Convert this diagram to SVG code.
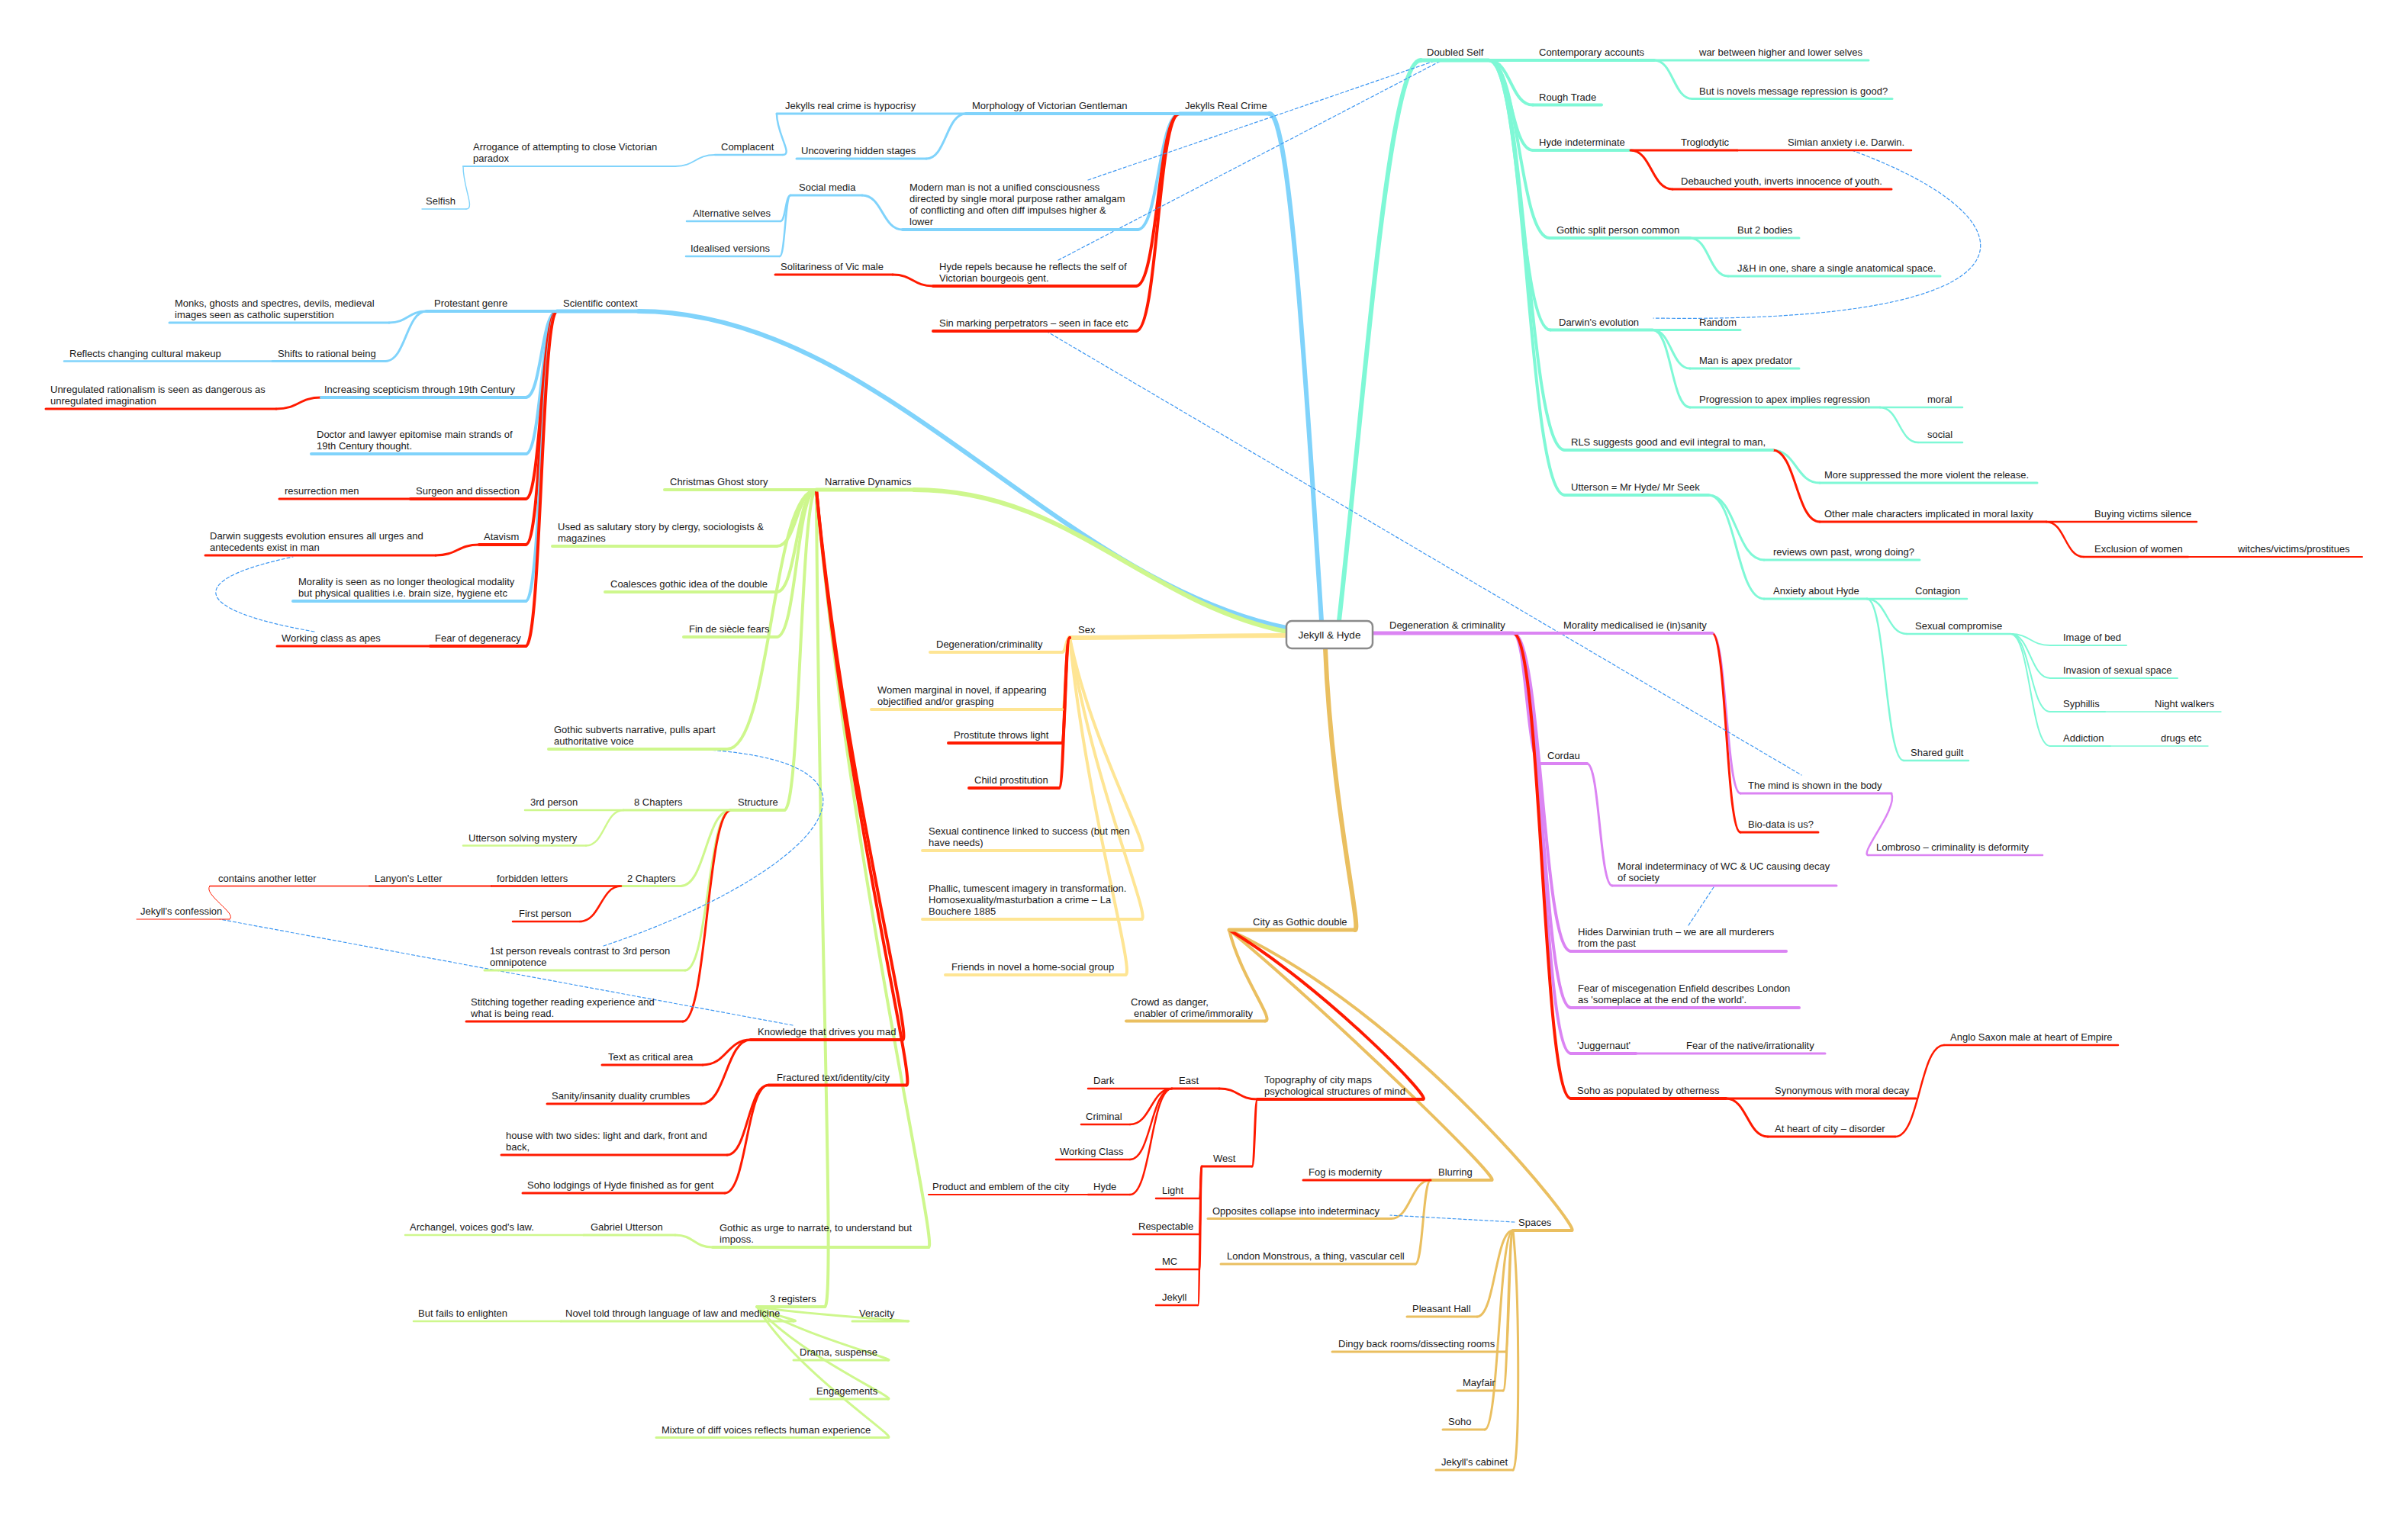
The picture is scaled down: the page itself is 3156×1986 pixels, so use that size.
<svg xmlns="http://www.w3.org/2000/svg" width="3156" height="1986" viewBox="0 0 3156 1986">
<defs>
<style>
path{fill:none;stroke-linecap:round;stroke-linejoin:round}
.b{stroke:#80d3fb}.t{stroke:#7ff8d6}.g{stroke:#cef78d}.y{stroke:#fee594}.o{stroke:#eabf60}.p{stroke:#db84f3}.r{stroke:#ff1a00}
.w0{stroke-width:6}.w1{stroke-width:5}.w2{stroke-width:4}.w3{stroke-width:3}.w4{stroke-width:2.5}.w5{stroke-width:2}.w6{stroke-width:1.4}.w7{stroke-width:1}
.rel{stroke:#3d97f2;stroke-width:1.2;stroke-dasharray:4 3;marker-end:url(#arr)}
text{font-family:"Liberation Sans",Arial,sans-serif;font-size:13px;fill:#1a1a1a}
.root{font-size:13.5px;text-anchor:middle}
</style>
<marker id="arr" markerUnits="userSpaceOnUse" markerWidth="12" markerHeight="10" refX="11" refY="5" orient="auto"><path d="M0 0L12 5L0 10z" fill="#2f8ff0" stroke="none"/></marker>
</defs>
<rect width="3156" height="1986" fill="#ffffff"/>
<g id="connectors">
<path class="t w0" d="M1755 814C1790 500 1820 79 1862 79"/>
<path class="b w0" d="M1732 814C1712 500 1690 149 1664 149"/>
<path class="b w0" d="M1686 823C1380 760 1150 408 837 408"/>
<path class="g w0" d="M1686 828C1500 790 1400 642 1198 642"/>
<path class="y w0" d="M1686 833C1600 833 1500 836 1402 836"/>
<path class="o w0" d="M1737 850C1745 1050 1785 1219 1776 1219"/>
<path class="b w2" d="M1546 149C1518.5 149 1518.5 301 1491 301"/>
<path class="r w2" d="M1546 149C1517.5 149 1517.5 375 1489 375"/>
<path class="r w2" d="M1546 149C1517.5 149 1517.5 434 1489 434"/>
<path class="b w3" d="M1266 149C1240 149 1240 208 1214 208"/>
<path class="b w4" d="M1018 149C1018 176 1040 203 1026 203"/>
<path class="b w5" d="M937 203C911 203 911 218 885 218"/>
<path class="b w6" d="M607 218C607 246 623 274 611 274"/>
<path class="b w3" d="M1183 301C1156.5 301 1156.5 256 1130 256"/>
<path class="b w4" d="M1036 256C1029.5 256 1029.5 290 1023 290"/>
<path class="b w4" d="M1036 256C1029 256 1029 336 1022 336"/>
<path class="r w3" d="M1223 375C1196.5 375 1196.5 360 1170 360"/>
<path class="b w2" d="M730 408C709.5 408 709.5 521 689 521"/>
<path class="b w2" d="M730 408C709.5 408 709.5 595 689 595"/>
<path class="r w2" d="M730 408C709.5 408 709.5 654 689 654"/>
<path class="r w2" d="M730 408C709.5 408 709.5 714 689 714"/>
<path class="b w2" d="M730 408C709.5 408 709.5 788 689 788"/>
<path class="r w2" d="M730 408C709.5 408 709.5 847 689 847"/>
<path class="b w3" d="M559 408C534.5 408 534.5 423 510 423"/>
<path class="b w3" d="M559 408C532 408 532 473.5 505 473.5"/>
<path class="r w3" d="M421 521C391.5 521 391.5 536 362 536"/>
<path class="r w3" d="M628 714C599.5 714 599.5 728 571 728"/>
<path class="g w2" d="M1070 642C1044 642 1044 716 1018 716"/>
<path class="g w2" d="M1070 642C1044 642 1044 776 1018 776"/>
<path class="g w2" d="M1070 642C1044 642 1044 835 1018 835"/>
<path class="g w2" d="M1070 642C1011 642 1011 982 953 982"/>
<path class="g w2" d="M1070 642C1049 642 1049 1062 1028 1062"/>
<path class="g w2" d="M1070 642C1114 1138 1231 1635 1217 1635"/>
<path class="g w2" d="M1070 642C1073 1178 1095 1713 1081 1713"/>
<path class="r w2" d="M1070 642C1104 1003 1197 1363 1183 1363"/>
<path class="r w2" d="M1070 642C1105 1032 1202 1422.5 1188 1422.5"/>
<path class="g w3" d="M958 1062C925 1062 925 1161.5 892 1161.5"/>
<path class="g w3" d="M958 1062C928 1062 928 1272 898 1272"/>
<path class="r w3" d="M958 1062C926.5 1062 926.5 1339 895 1339"/>
<path class="g w4" d="M817 1062C792.5 1062 792.5 1108.5 768 1108.5"/>
<path class="r w4" d="M814 1161.5C787 1161.5 787 1208 760 1208"/>
<path class="r w7" d="M275 1161.5C265 1172 312 1198 301 1205"/>
<path class="r w3" d="M984 1363C952.5 1363 952.5 1396 921 1396"/>
<path class="r w3" d="M984 1363C951.5 1363 951.5 1447 919 1447"/>
<path class="r w3" d="M1007 1422.5C980 1422.5 980 1514 953 1514"/>
<path class="r w3" d="M1007 1422.5C978.5 1422.5 978.5 1564 950 1564"/>
<path class="g w3" d="M934 1635C909.5 1635 909.5 1619 885 1619"/>
<path class="g w3" d="M992 1713C1006 1723 1054 1732 1040 1732"/>
<path class="g w3" d="M992 1713C1051 1723 1204 1732 1190 1732"/>
<path class="g w3" d="M992 1713C1044 1748 1178 1783 1164 1783"/>
<path class="g w3" d="M992 1713C1044 1774 1178 1834 1164 1834"/>
<path class="g w3" d="M992 1713C1044 1799 1178 1884.5 1164 1884.5"/>
<path class="y w2" d="M1402 836C1397 836 1397 855 1392 855"/>
<path class="y w2" d="M1402 836C1397 836 1397 930 1392 930"/>
<path class="y w2" d="M1402 836C1430 975 1510 1115 1496 1115"/>
<path class="y w2" d="M1402 836C1430 1020 1510 1205 1496 1205"/>
<path class="y w2" d="M1402 836C1424 1057 1489 1278 1475 1278"/>
<path class="r w2" d="M1402 836C1396.5 836 1396.5 974 1391 974"/>
<path class="r w2" d="M1402 836C1395 836 1395 1033 1388 1033"/>
<path class="o w2" d="M1611 1219C1625 1279 1672 1338.5 1658 1338.5"/>
<path class="o w2" d="M1611 1219C1749 1334 1969 1547 1955 1547"/>
<path class="o w2" d="M1611 1219C1850 1330 2074 1613 2060 1613"/>
<path class="r w2" d="M1611 1219C1730 1290 1879 1441 1865 1441"/>
<path class="r w3" d="M1648 1441C1623 1441 1623 1427 1598 1427"/>
<path class="r w3" d="M1648 1441C1644.5 1441 1644.5 1529 1641 1529"/>
<path class="r w4" d="M1536 1427C1508.5 1427 1508.5 1474 1481 1474"/>
<path class="r w4" d="M1536 1427C1508.5 1427 1508.5 1520 1481 1520"/>
<path class="r w4" d="M1536 1427C1508.5 1427 1508.5 1566 1481 1566"/>
<path class="r w4" d="M1575 1529C1573.5 1529 1573.5 1571 1572 1571"/>
<path class="r w4" d="M1575 1529C1573.5 1529 1573.5 1618 1572 1618"/>
<path class="r w4" d="M1575 1529C1573.5 1529 1573.5 1664 1572 1664"/>
<path class="r w4" d="M1575 1529C1572.5 1529 1572.5 1711 1570 1711"/>
<path class="o w3" d="M1875 1547C1849 1547 1849 1597.5 1823 1597.5"/>
<path class="o w3" d="M1875 1547C1865 1547 1865 1657 1855 1657"/>
<path class="o w3" d="M1983 1613C1959.5 1613 1959.5 1726 1936 1726"/>
<path class="o w3" d="M1983 1613C1978 1613 1978 1772 1973 1772"/>
<path class="o w3" d="M1983 1613C1976.5 1613 1976.5 1823 1970 1823"/>
<path class="o w3" d="M1983 1613C1964.5 1613 1964.5 1874 1946 1874"/>
<path class="o w3" d="M1983 1613C1992 1700 1992 1927 1983 1927"/>
<path class="p w2" d="M1983 830C2001 830 2001 1001 2019 1001"/>
<path class="p w2" d="M1983 830C2021 830 2021 1247 2059 1247"/>
<path class="p w2" d="M1983 830C2021 830 2021 1321 2059 1321"/>
<path class="p w2" d="M1983 830C2021 830 2021 1381 2059 1381"/>
<path class="r w2" d="M1983 830C2021 830 2021 1440 2059 1440"/>
<path class="p w3" d="M2244 830C2262.5 830 2262.5 1040 2281 1040"/>
<path class="r w3" d="M2244 830C2262.5 830 2262.5 1091 2281 1091"/>
<path class="p w4" d="M2479 1040C2488 1060 2435 1121 2449 1121"/>
<path class="p w3" d="M2080 1001C2096.5 1001 2096.5 1161 2113 1161"/>
<path class="r w3" d="M2262 1440C2290 1440 2290 1490 2317 1490"/>
<path class="r w4" d="M2484 1490C2516 1490 2516 1370 2548 1370"/>
<path class="t w2" d="M1951 79C1980 79 1980 137.6 2009 137.6"/>
<path class="t w2" d="M1951 79C1980 79 1980 197 2009 197"/>
<path class="t w2" d="M1951 79C1991 79 1991 312 2031 312"/>
<path class="t w2" d="M1951 79C1991.5 79 1991.5 432.5 2032 432.5"/>
<path class="t w2" d="M1951 79C2001 79 2001 590 2051 590"/>
<path class="t w2" d="M1951 79C2001 79 2001 649 2051 649"/>
<path class="t w3" d="M2168 79C2193 79 2193 129.5 2218 129.5"/>
<path class="r w3" d="M2137 197C2164.5 197 2164.5 248 2192 248"/>
<path class="t w3" d="M2215 312C2240 312 2240 362 2265 362"/>
<path class="t w3" d="M2166 432.5C2190.5 432.5 2190.5 483 2215 483"/>
<path class="t w3" d="M2166 432.5C2190.5 432.5 2190.5 534 2215 534"/>
<path class="t w4" d="M2464 534C2489 534 2489 580 2514 580"/>
<path class="t w3" d="M2323 590C2354 590 2354 633 2385 633"/>
<path class="r w3" d="M2323 590C2354 590 2354 684 2385 684"/>
<path class="r w4" d="M2682 684C2706.5 684 2706.5 730 2731 730"/>
<path class="t w3" d="M2239 649C2275.5 649 2275.5 734 2312 734"/>
<path class="t w3" d="M2239 649C2275.5 649 2275.5 785 2312 785"/>
<path class="t w4" d="M2447 785C2473 785 2473 831 2499 831"/>
<path class="t w4" d="M2447 785C2471 785 2471 997 2495 997"/>
<path class="t w5" d="M2635 831C2661 831 2661 846 2687 846"/>
<path class="t w5" d="M2635 831C2661 831 2661 889 2687 889"/>
<path class="t w5" d="M2635 831C2661 831 2661 933 2687 933"/>
<path class="t w5" d="M2635 831C2661 831 2661 978 2687 978"/>
<path class="rel" d="M1426 236L1880 80"/>
<path class="rel" d="M1387 341L1888 80"/>
<path class="rel" d="M1371 434L2361 1016"/>
<path class="rel" d="M2427 197C2680 290 2690 425 2167 417"/>
<path class="rel" d="M412 828C250 800 240 760 384 730"/>
<path class="rel" d="M791 1240C1060 1150 1230 990 887 981"/>
<path class="rel" d="M1039 1344L288 1205"/>
<path class="rel" d="M2213 1213L2246 1163"/>
<path class="rel" d="M1985 1602L1822 1593"/>
</g>
<g id="n-jrc"><path class="b w1" d="M1546 149H1664"/><text x="1553" y="143">Jekylls Real Crime</text></g>
<g id="n-morph"><path class="b w2" d="M1266 149H1546"/><text x="1274" y="143">Morphology of Victorian Gentleman</text></g>
<g id="n-hypo"><path class="b w3" d="M1018 149H1266"/><text x="1029" y="143">Jekylls real crime is hypocrisy</text></g>
<g id="n-compl"><path class="b w4" d="M937 203H1026"/><text x="945" y="197">Complacent</text></g>
<g id="n-arrog"><path class="b w5" d="M607 218H885"/><text x="620" y="197">Arrogance of attempting to close Victorian<tspan x="620" dy="15">paradox</tspan></text></g>
<g id="n-selfish"><path class="b w6" d="M553 274H611"/><text x="558" y="268">Selfish</text></g>
<g id="n-uncover"><path class="b w3" d="M1044 208H1214"/><text x="1050" y="202">Uncovering hidden stages</text></g>
<g id="n-modern"><path class="b w2" d="M1183 301H1491"/><text x="1192" y="250">Modern man is not a unified consciousness<tspan x="1192" dy="15">directed by single moral purpose rather amalgam</tspan><tspan x="1192" dy="15">of conflicting and often diff impulses higher &amp;</tspan><tspan x="1192" dy="15">lower</tspan></text></g>
<g id="n-social"><path class="b w3" d="M1036 256H1130"/><text x="1047" y="250">Social media</text></g>
<g id="n-alt"><path class="b w4" d="M900 290H1023"/><text x="908" y="284">Alternative selves</text></g>
<g id="n-ideal"><path class="b w4" d="M899 336H1022"/><text x="905" y="330">Idealised versions</text></g>
<g id="n-hrepel"><path class="r w2" d="M1223 375H1489"/><text x="1231" y="354">Hyde repels because he reflects the self of<tspan x="1231" dy="15">Victorian bourgeois gent.</tspan></text></g>
<g id="n-solit"><path class="r w3" d="M1016 360H1170"/><text x="1023" y="354">Solitariness of Vic male</text></g>
<g id="n-sin"><path class="r w2" d="M1223 434H1489"/><text x="1231" y="428">Sin marking perpetrators – seen in face etc</text></g>
<g id="n-sci"><path class="b w1" d="M730 408H837"/><text x="738" y="402">Scientific context</text></g>
<g id="n-prot"><path class="b w2" d="M559 408H730"/><text x="569" y="402">Protestant genre</text></g>
<g id="n-monks"><path class="b w3" d="M222 423H510"/><text x="229" y="402">Monks, ghosts and spectres, devils, medieval<tspan x="229" dy="15">images seen as catholic superstition</tspan></text></g>
<g id="n-shifts"><path class="b w3" d="M357 473.5H505"/><text x="364" y="467.5">Shifts to rational being</text></g>
<g id="n-reflects"><path class="b w4" d="M84 473.5H357"/><text x="91" y="467.5">Reflects changing cultural makeup</text></g>
<g id="n-incr"><path class="b w2" d="M421 521H689"/><text x="425" y="515">Increasing scepticism through 19th Century</text></g>
<g id="n-unreg"><path class="r w3" d="M60 536H362"/><text x="66" y="515">Unregulated rationalism is seen as dangerous as<tspan x="66" dy="15">unregulated imagination</tspan></text></g>
<g id="n-doctor"><path class="b w2" d="M408 595H689"/><text x="415" y="574">Doctor and lawyer epitomise main strands of<tspan x="415" dy="15">19th Century thought.</tspan></text></g>
<g id="n-surgeon"><path class="r w2" d="M538 654H689"/><text x="545" y="648">Surgeon and dissection</text></g>
<g id="n-resur"><path class="r w3" d="M366 654H538"/><text x="373" y="648">resurrection men</text></g>
<g id="n-atav"><path class="r w2" d="M628 714H689"/><text x="634" y="708">Atavism</text></g>
<g id="n-darsug"><path class="r w3" d="M269 728H571"/><text x="275" y="707">Darwin suggests evolution ensures all urges and<tspan x="275" dy="15">antecedents exist in man</tspan></text></g>
<g id="n-moral"><path class="b w2" d="M384 788H689"/><text x="391" y="767">Morality is seen as no longer theological modality<tspan x="391" dy="15">but physical qualities i.e. brain size, hygiene etc</tspan></text></g>
<g id="n-fear"><path class="r w2" d="M564 847H689"/><text x="570" y="841">Fear of degeneracy</text></g>
<g id="n-wc"><path class="r w3" d="M363 847H564"/><text x="369" y="841">Working class as apes</text></g>
<g id="n-narr"><path class="g w1" d="M1070 642H1198"/><text x="1081" y="636">Narrative Dynamics</text></g>
<g id="n-xmas"><path class="g w2" d="M871 642H1070"/><text x="878" y="636">Christmas Ghost story</text></g>
<g id="n-used"><path class="g w2" d="M724 716H1018"/><text x="731" y="695">Used as salutary story by clergy, sociologists &amp;<tspan x="731" dy="15">magazines</tspan></text></g>
<g id="n-coal"><path class="g w2" d="M793 776H1018"/><text x="800" y="770">Coalesces gothic idea of the double</text></g>
<g id="n-fin"><path class="g w2" d="M896 835H1018"/><text x="903" y="829">Fin de siècle fears</text></g>
<g id="n-gsub"><path class="g w2" d="M719 982H953"/><text x="726" y="961">Gothic subverts narrative, pulls apart<tspan x="726" dy="15">authoritative voice</tspan></text></g>
<g id="n-struct"><path class="g w2" d="M958 1062H1028"/><text x="967" y="1056">Structure</text></g>
<g id="n-8ch"><path class="g w3" d="M817 1062H958"/><text x="831" y="1056">8 Chapters</text></g>
<g id="n-3rd"><path class="g w4" d="M688 1062H817"/><text x="695" y="1056">3rd person</text></g>
<g id="n-utsolve"><path class="g w4" d="M607 1108.5H768"/><text x="614" y="1102.5">Utterson solving mystery</text></g>
<g id="n-2ch"><path class="g w3" d="M814 1161.5H892"/><text x="822" y="1155.5">2 Chapters</text></g>
<g id="n-forb"><path class="r w4" d="M644 1161.5H814"/><text x="651" y="1155.5">forbidden letters</text></g>
<g id="n-lany"><path class="r w5" d="M484 1161.5H644"/><text x="491" y="1155.5">Lanyon's Letter</text></g>
<g id="n-contains"><path class="r w6" d="M275 1161.5H484"/><text x="286" y="1155.5">contains another letter</text></g>
<g id="n-jconf"><path class="r w7" d="M179 1205H301"/><text x="184" y="1199">Jekyll's confession</text></g>
<g id="n-first"><path class="r w4" d="M672 1208H760"/><text x="680" y="1202">First person</text></g>
<g id="n-1st"><path class="g w3" d="M635 1272H898"/><text x="642" y="1251">1st person reveals contrast to 3rd person<tspan x="642" dy="15">omnipotence</tspan></text></g>
<g id="n-stitch"><path class="r w3" d="M611 1339H895"/><text x="617" y="1318">Stitching together reading experience and<tspan x="617" dy="15">what is being read.</tspan></text></g>
<g id="n-know"><path class="r w2" d="M984 1363H1183"/><text x="993" y="1357">Knowledge that drives you mad</text></g>
<g id="n-textcrit"><path class="r w3" d="M789 1396H921"/><text x="797" y="1390">Text as critical area</text></g>
<g id="n-sanity"><path class="r w3" d="M717 1447H919"/><text x="723" y="1441">Sanity/insanity duality crumbles</text></g>
<g id="n-fract"><path class="r w2" d="M1007 1422.5H1188"/><text x="1018" y="1416.5">Fractured text/identity/city</text></g>
<g id="n-house"><path class="r w3" d="M657 1514H953"/><text x="663" y="1493">house with two sides: light and dark, front and<tspan x="663" dy="15">back,</tspan></text></g>
<g id="n-soholodg"><path class="r w3" d="M685 1564H950"/><text x="691" y="1558">Soho lodgings of Hyde finished as for gent</text></g>
<g id="n-gurge"><path class="g w2" d="M934 1635H1217"/><text x="943" y="1614">Gothic as urge to narrate, to understand but<tspan x="943" dy="15">imposs.</tspan></text></g>
<g id="n-gabriel"><path class="g w3" d="M765 1619H885"/><text x="774" y="1613">Gabriel Utterson</text></g>
<g id="n-archangel"><path class="g w4" d="M531 1619H765"/><text x="537" y="1613">Archangel, voices god's law.</text></g>
<g id="n-3reg"><path class="g w2" d="M992 1713H1081"/><text x="1009" y="1707">3 registers</text></g>
<g id="n-novel"><path class="g w3" d="M735 1732H1040"/><text x="741" y="1726">Novel told through language of law and medicine</text></g>
<g id="n-butfails"><path class="g w4" d="M542 1732H735"/><text x="548" y="1726">But fails to enlighten</text></g>
<g id="n-veracity"><path class="g w3" d="M1117 1732H1190"/><text x="1126" y="1726">Veracity</text></g>
<g id="n-drama"><path class="g w3" d="M1040 1783H1164"/><text x="1048" y="1777">Drama, suspense</text></g>
<g id="n-engage"><path class="g w3" d="M1062 1834H1164"/><text x="1070" y="1828">Engagements</text></g>
<g id="n-mixture"><path class="g w3" d="M860 1884.5H1164"/><text x="867" y="1878.5">Mixture of diff voices reflects human experience</text></g>
<g id="n-sex"><text x="1413" y="830">Sex</text></g>
<g id="n-degcrim"><path class="y w2" d="M1219 855H1392"/><text x="1227" y="849">Degeneration/criminality</text></g>
<g id="n-women"><path class="y w2" d="M1142 930H1392"/><text x="1150" y="909">Women marginal in novel, if appearing<tspan x="1150" dy="15">objectified and/or grasping</tspan></text></g>
<g id="n-prost"><path class="r w2" d="M1243 974H1391"/><text x="1250" y="968">Prostitute throws light</text></g>
<g id="n-child"><path class="r w2" d="M1270 1033H1388"/><text x="1277" y="1027">Child prostitution</text></g>
<g id="n-contin"><path class="y w2" d="M1209 1115H1496"/><text x="1217" y="1094">Sexual continence linked to success (but men<tspan x="1217" dy="15">have needs)</tspan></text></g>
<g id="n-phallic"><path class="y w2" d="M1209 1205H1496"/><text x="1217" y="1169">Phallic, tumescent imagery in transformation.<tspan x="1217" dy="15">Homosexuality/masturbation a crime – La</tspan><tspan x="1217" dy="15">Bouchere 1885</tspan></text></g>
<g id="n-friends"><path class="y w2" d="M1239 1278H1475"/><text x="1247" y="1272">Friends in novel a home-social group</text></g>
<g id="n-city"><path class="o w1" d="M1611 1219H1776"/><text x="1642" y="1213">City as Gothic double</text></g>
<g id="n-crowd"><path class="o w2" d="M1476 1338.5H1658"/><text x="1482" y="1317.5">Crowd as danger,<tspan x="1486" dy="15">enabler of crime/immorality</tspan></text></g>
<g id="n-topo"><path class="r w2" d="M1648 1441H1865"/><text x="1657" y="1420">Topography of city maps<tspan x="1657" dy="15">psychological structures of mind</tspan></text></g>
<g id="n-east"><path class="r w3" d="M1536 1427H1598"/><text x="1545" y="1421">East</text></g>
<g id="n-dark"><path class="r w4" d="M1426 1427H1536"/><text x="1433" y="1421">Dark</text></g>
<g id="n-criminal"><path class="r w4" d="M1417 1474H1481"/><text x="1423" y="1468">Criminal</text></g>
<g id="n-wclass"><path class="r w4" d="M1384 1520H1481"/><text x="1389" y="1514">Working Class</text></g>
<g id="n-hyde"><path class="r w4" d="M1426 1566H1481"/><text x="1433" y="1560">Hyde</text></g>
<g id="n-product"><path class="r w5" d="M1217 1566H1426"/><text x="1222" y="1560">Product and emblem of the city</text></g>
<g id="n-west"><path class="r w3" d="M1575 1529H1641"/><text x="1590" y="1523">West</text></g>
<g id="n-light"><path class="r w4" d="M1515 1571H1572"/><text x="1523" y="1565">Light</text></g>
<g id="n-resp"><path class="r w4" d="M1485 1618H1572"/><text x="1492" y="1612">Respectable</text></g>
<g id="n-mc"><path class="r w4" d="M1515 1664H1572"/><text x="1523" y="1658">MC</text></g>
<g id="n-jekyll"><path class="r w4" d="M1515 1711H1570"/><text x="1523" y="1705">Jekyll</text></g>
<g id="n-blur"><path class="o w2" d="M1875 1547H1955"/><text x="1885" y="1541">Blurring</text></g>
<g id="n-fog"><path class="r w3" d="M1708 1547H1875"/><text x="1715" y="1541">Fog is modernity</text></g>
<g id="n-opp"><path class="o w3" d="M1583 1597.5H1823"/><text x="1589" y="1591.5">Opposites collapse into indeterminacy</text></g>
<g id="n-london"><path class="o w3" d="M1600 1657H1855"/><text x="1608" y="1651">London Monstrous, a thing, vascular cell</text></g>
<g id="n-spaces"><path class="o w2" d="M1983 1613H2060"/><text x="1990" y="1607">Spaces</text></g>
<g id="n-pleasant"><path class="o w3" d="M1844 1726H1936"/><text x="1851" y="1720">Pleasant Hall</text></g>
<g id="n-dingy"><path class="o w3" d="M1746 1772H1973"/><text x="1754" y="1766">Dingy back rooms/dissecting rooms</text></g>
<g id="n-mayfair"><path class="o w3" d="M1910 1823H1970"/><text x="1917" y="1817">Mayfair</text></g>
<g id="n-soho"><path class="o w3" d="M1891 1874H1946"/><text x="1898" y="1868">Soho</text></g>
<g id="n-cabinet"><path class="o w3" d="M1882 1927H1983"/><text x="1889" y="1921">Jekyll's cabinet</text></g>
<g id="n-degen"><path class="p w1" d="M1799 830H1983"/><text x="1821" y="824">Degeneration &amp; criminality</text></g>
<g id="n-medic"><path class="p w2" d="M1983 830H2244"/><text x="2049" y="824">Morality medicalised ie (in)sanity</text></g>
<g id="n-mind"><path class="p w3" d="M2281 1040H2479"/><text x="2291" y="1034">The mind is shown in the body</text></g>
<g id="n-lomb"><path class="p w4" d="M2449 1121H2677"/><text x="2459" y="1115">Lombroso – criminality is deformity</text></g>
<g id="n-bio"><path class="r w3" d="M2281 1091H2383"/><text x="2291" y="1085">Bio-data is us?</text></g>
<g id="n-cordau"><path class="p w2" d="M2019 1001H2080"/><text x="2028" y="995">Cordau</text></g>
<g id="n-moralind"><path class="p w3" d="M2113 1161H2407"/><text x="2120" y="1140">Moral indeterminacy of WC &amp; UC causing decay<tspan x="2120" dy="15">of society</tspan></text></g>
<g id="n-hides"><path class="p w2" d="M2059 1247H2341"/><text x="2068" y="1226">Hides Darwinian truth – we are all murderers<tspan x="2068" dy="15">from the past</tspan></text></g>
<g id="n-misc"><path class="p w2" d="M2059 1321H2358"/><text x="2068" y="1300">Fear of miscegenation Enfield describes London<tspan x="2068" dy="15">as 'someplace at the end of the world'.</tspan></text></g>
<g id="n-jugg"><path class="p w2" d="M2059 1381H2144"/><text x="2067" y="1375">'Juggernaut'</text></g>
<g id="n-native"><path class="p w3" d="M2144 1381H2392"/><text x="2210" y="1375">Fear of the native/irrationality</text></g>
<g id="n-sohoother"><path class="r w2" d="M2059 1440H2262"/><text x="2067" y="1434">Soho as populated by otherness</text></g>
<g id="n-synon"><path class="r w3" d="M2262 1440H2511"/><text x="2326" y="1434">Synonymous with moral decay</text></g>
<g id="n-heart"><path class="r w3" d="M2317 1490H2484"/><text x="2326" y="1484">At heart of city – disorder</text></g>
<g id="n-anglo"><path class="r w4" d="M2548 1370H2776"/><text x="2556" y="1364">Anglo Saxon male at heart of Empire</text></g>
<g id="n-doubled"><path class="t w1" d="M1862 79H1951"/><text x="1870" y="73">Doubled Self</text></g>
<g id="n-contemp"><path class="t w2" d="M1951 79H2168"/><text x="2017" y="73">Contemporary accounts</text></g>
<g id="n-war"><path class="t w3" d="M2168 79H2449"/><text x="2227" y="73">war between higher and lower selves</text></g>
<g id="n-butis"><path class="t w3" d="M2218 129.5H2480"/><text x="2227" y="123.5">But is novels message repression is good?</text></g>
<g id="n-rough"><path class="t w2" d="M2009 137.6H2099"/><text x="2017" y="131.6">Rough Trade</text></g>
<g id="n-hydeind"><path class="t w2" d="M2009 197H2137"/><text x="2017" y="191">Hyde indeterminate</text></g>
<g id="n-trog"><path class="r w3" d="M2137 197H2277"/><text x="2203" y="191">Troglodytic</text></g>
<g id="n-simian"><path class="r w4" d="M2277 197H2505"/><text x="2343" y="191">Simian anxiety i.e. Darwin.</text></g>
<g id="n-debauch"><path class="r w3" d="M2192 248H2479"/><text x="2203" y="242">Debauched youth, inverts innocence of youth.</text></g>
<g id="n-gothsplit"><path class="t w2" d="M2031 312H2215"/><text x="2040" y="306">Gothic split person common</text></g>
<g id="n-2bodies"><path class="t w3" d="M2215 312H2358"/><text x="2277" y="306">But 2 bodies</text></g>
<g id="n-jh"><path class="t w3" d="M2265 362H2543"/><text x="2277" y="356">J&amp;H in one, share a single anatomical space.</text></g>
<g id="n-darwin"><path class="t w2" d="M2032 432.5H2166"/><text x="2043" y="426.5">Darwin's evolution</text></g>
<g id="n-random"><path class="t w3" d="M2166 432.5H2281"/><text x="2227" y="426.5">Random</text></g>
<g id="n-apex"><path class="t w3" d="M2215 483H2358"/><text x="2227" y="477">Man is apex predator</text></g>
<g id="n-progr"><path class="t w3" d="M2215 534H2464"/><text x="2227" y="528">Progression to apex implies regression</text></g>
<g id="n-moral2"><path class="t w4" d="M2464 534H2572"/><text x="2526" y="528">moral</text></g>
<g id="n-social2"><path class="t w4" d="M2514 580H2572"/><text x="2526" y="574">social</text></g>
<g id="n-rls"><path class="t w2" d="M2051 590H2323"/><text x="2059" y="584">RLS suggests good and evil integral to man,</text></g>
<g id="n-moresupp"><path class="t w3" d="M2385 633H2670"/><text x="2391" y="627">More suppressed the more violent the release.</text></g>
<g id="n-othermale"><path class="r w3" d="M2385 684H2682"/><text x="2391" y="678">Other male characters implicated in moral laxity</text></g>
<g id="n-buying"><path class="r w4" d="M2682 684H2879"/><text x="2745" y="678">Buying victims silence</text></g>
<g id="n-exclusion"><path class="r w4" d="M2731 730H2868"/><text x="2745" y="724">Exclusion of women</text></g>
<g id="n-witches"><path class="r w5" d="M2868 730H3096"/><text x="2933" y="724">witches/victims/prostitues</text></g>
<g id="n-utterson"><path class="t w2" d="M2051 649H2239"/><text x="2059" y="643">Utterson = Mr Hyde/ Mr Seek</text></g>
<g id="n-reviews"><path class="t w3" d="M2312 734H2516"/><text x="2324" y="728">reviews own past, wrong doing?</text></g>
<g id="n-anxiety"><path class="t w3" d="M2312 785H2447"/><text x="2324" y="779">Anxiety about Hyde</text></g>
<g id="n-contagion"><path class="t w4" d="M2447 785H2578"/><text x="2510" y="779">Contagion</text></g>
<g id="n-sexcomp"><path class="t w4" d="M2499 831H2635"/><text x="2510" y="825">Sexual compromise</text></g>
<g id="n-bed"><path class="t w5" d="M2687 846H2787"/><text x="2704" y="840">Image of bed</text></g>
<g id="n-invasion"><path class="t w5" d="M2687 889H2854"/><text x="2704" y="883">Invasion of sexual space</text></g>
<g id="n-syph"><path class="t w5" d="M2687 933H2759"/><text x="2704" y="927">Syphillis</text></g>
<g id="n-night"><path class="t w6" d="M2759 933H2911"/><text x="2824" y="927">Night walkers</text></g>
<g id="n-addiction"><path class="t w5" d="M2687 978H2766"/><text x="2704" y="972">Addiction</text></g>
<g id="n-drugs"><path class="t w6" d="M2766 978H2894"/><text x="2832" y="972">drugs etc</text></g>
<g id="n-shared"><path class="t w4" d="M2495 997H2580"/><text x="2504" y="991">Shared guilt</text></g>
<g id="n-root"><rect x="1686" y="814" width="113" height="36" rx="7" fill="#ffffff" stroke="#8a8a8a" stroke-width="2.5"/><text class="root" x="1742.5" y="837">Jekyll &amp; Hyde</text></g>
</svg>
